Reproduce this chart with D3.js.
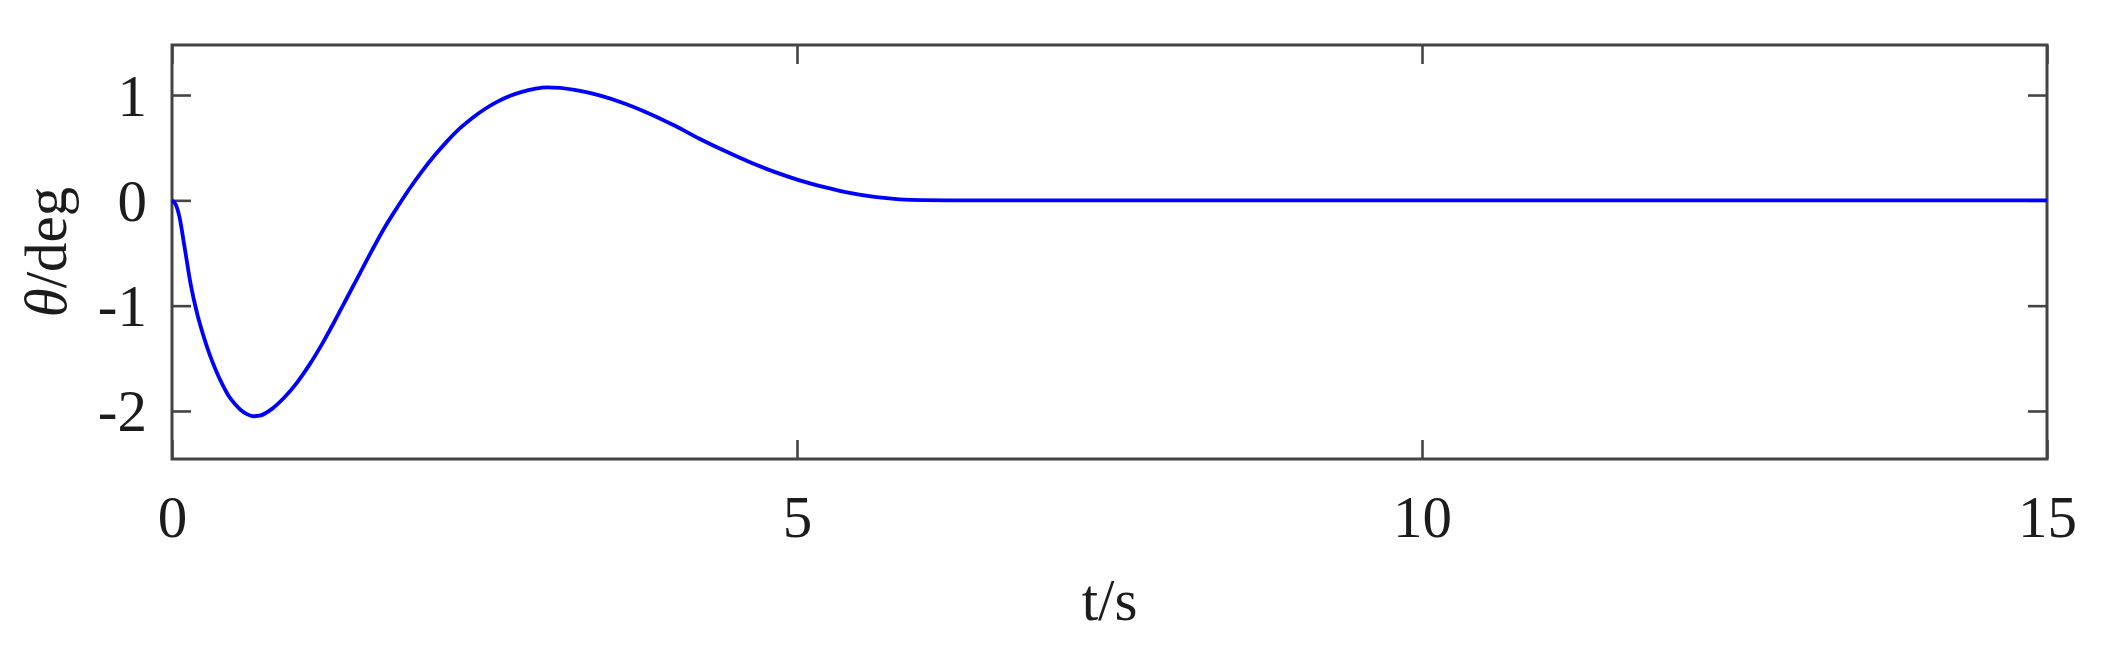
<!DOCTYPE html>
<html>
<head>
<meta charset="utf-8">
<script src="https://cdn.jsdelivr.net/npm/d3@7"></script>
<style>
  html, body { margin: 0; padding: 0; background: #ffffff; }
  svg { display: block; }
</style>
</head>
<body>
<svg id="chart" width="2103" height="652"></svg>
<script>
// ---- data ----
const tValues = [0, 0.03, 0.06, 0.1, 0.15, 0.2, 0.25, 0.3, 0.35, 0.4, 0.45, 0.5, 0.55, 0.6, 0.65, 0.7,
  0.8, 0.9, 1.0, 1.1, 1.2, 1.3, 1.4, 1.5, 1.6, 1.7, 1.8, 1.9, 2.0, 2.1, 2.2, 2.3, 2.4, 2.5, 2.6,
  2.7, 2.8, 2.9, 3.0, 3.22, 3.42, 3.62, 3.82, 4.02, 4.22, 4.42, 4.62, 4.82, 5.02, 5.22, 5.42,
  5.62, 5.82, 6.0, 6.2, 7, 8, 10, 12, 15];
const thetaValues = [0, -0.04, -0.16, -0.44, -0.80, -1.07, -1.28, -1.46, -1.61, -1.74, -1.85, -1.93, -1.99, -2.03, -2.05, -2.045,
  -1.98, -1.87, -1.73, -1.56, -1.365, -1.15, -0.925, -0.70, -0.475, -0.26, -0.07, 0.11, 0.275, 0.425, 0.56, 0.68, 0.78, 0.865, 0.935,
  0.99, 1.03, 1.058, 1.073, 1.05, 0.997, 0.92, 0.823, 0.71, 0.585, 0.47, 0.364, 0.27, 0.19, 0.125, 0.07,
  0.032, 0.01, 0.002, 0, 0, 0, 0, 0, 0];
const xTicks = [0, 5, 10, 15];
const yTicks = [-2, -1, 0, 1];
const xDomain = [0, 15];
const yDomain = [-2.456, 1.475];
const xLabel = "t/s";

(function () {
// ---- layout ----
const pLeft = 172, pRight = 2047, pTop = 45, pBottom = 459;
const svg = d3.select("#chart");
const x = d3.scaleLinear().domain(xDomain).range([pLeft, pRight]);
const y = d3.scaleLinear().domain(yDomain).range([pBottom, pTop]);

const axisColor = "#444444";
const textColor = "#1c1c1c";
const font = "'Liberation Serif', 'Times New Roman', serif";
const tickLen = 19;

function styleAxis(g) {
  g.select(".domain").remove();
  g.selectAll(".tick line").attr("stroke", axisColor).attr("stroke-width", 2.6);
  g.selectAll("text").attr("fill", textColor).style("font-family", font).style("font-size", "59px");
}

// bottom axis
const gb = svg.append("g").attr("transform", `translate(0,${pBottom})`)
  .call(d3.axisBottom(x).tickValues(xTicks).tickSize(-tickLen).tickSizeOuter(0).tickFormat(d3.format("d")));
styleAxis(gb);
gb.selectAll("text").attr("y", 78).attr("dy", null);

// top axis (ticks only)
const gt = svg.append("g").attr("transform", `translate(0,${pTop})`)
  .call(d3.axisTop(x).tickValues(xTicks).tickSize(-tickLen).tickSizeOuter(0).tickFormat(""));
styleAxis(gt);

// left axis
const gl = svg.append("g").attr("transform", `translate(${pLeft},0)`)
  .call(d3.axisLeft(y).tickValues(yTicks).tickSize(-tickLen).tickSizeOuter(0)
    .tickFormat(d => String(d)));
styleAxis(gl);
gl.selectAll("text").attr("x", -25).attr("dy", null).attr("y", 20).attr("text-anchor", "end");

// right axis (ticks only)
const gr = svg.append("g").attr("transform", `translate(${pRight},0)`)
  .call(d3.axisRight(y).tickValues(yTicks).tickSize(-tickLen).tickSizeOuter(0).tickFormat(""));
styleAxis(gr);

// box
svg.append("rect")
  .attr("x", pLeft).attr("y", pTop)
  .attr("width", pRight - pLeft).attr("height", pBottom - pTop)
  .attr("fill", "none").attr("stroke", axisColor).attr("stroke-width", 3);

// curve
const data = tValues.map((t, i) => ({t, v: thetaValues[i]}));
svg.append("path")
  .datum(data)
  .attr("fill", "none")
  .attr("stroke", "#0000ff")
  .attr("stroke-width", 3.8)
  .attr("stroke-linejoin", "round")
  .attr("d", d3.line().x(d => x(d.t)).y(d => y(d.v)).curve(d3.curveMonotoneX));

// x label
svg.append("text")
  .attr("x", (pLeft + pRight) / 2).attr("y", 620)
  .attr("text-anchor", "middle")
  .attr("fill", textColor)
  .style("font-family", font).style("font-size", "59px")
  .text(xLabel);

// y label
const yl = svg.append("text")
  .attr("transform", `translate(66,${(pTop + pBottom) / 2}) rotate(-90)`)
  .attr("text-anchor", "middle")
  .attr("fill", textColor)
  .style("font-family", font).style("font-size", "59px");
yl.append("tspan").style("font-style", "italic").text("θ");
yl.append("tspan").text("/deg");
})();
</script>
</body>
</html>
